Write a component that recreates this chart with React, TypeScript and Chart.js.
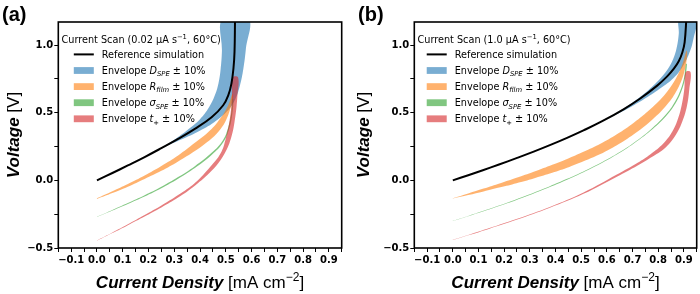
import React, { useEffect, useRef } from 'react';
import { Chart, registerables } from 'chart.js';

Chart.register(...registerables);

type Pt = [number, number];

// Axis ranges and tick spacing (current density in mA cm^-2, voltage in V)
const X_MIN = -0.15;
const X_MAX = 0.95;
const X_STEP = 0.05;
const Y_MIN = -0.5;
const Y_MAX = 1.17;
const Y_STEP = 0.25;

// Panel (a): current scan 0.02 µA/s
const refA: Pt[] = [[0, 0], [0.06, 0.054], [0.12, 0.11], [0.185, 0.172], [0.25, 0.238], [0.315, 0.306], [0.38, 0.38], [0.445, 0.466], [0.49, 0.555], [0.51, 0.63], [0.522, 0.715], [0.53, 0.83], [0.534, 0.95], [0.536, 1.2]];
const dSpeLoA: Pt[] = [[0.25, 0.238], [0.3, 0.3], [0.35, 0.37], [0.4, 0.452], [0.435, 0.54], [0.458, 0.63], [0.472, 0.72], [0.48, 0.82], [0.485, 0.95], [0.488, 1.2]];
const dSpeHiA: Pt[] = [[0.25, 0.238], [0.32, 0.296], [0.39, 0.358], [0.455, 0.43], [0.505, 0.51], [0.537, 0.6], [0.555, 0.7], [0.568, 0.82], [0.578, 0.97], [0.588, 1.2]];
const rFilmLoA: Pt[] = [[0, -0.138], [0.06, -0.094], [0.12, -0.047], [0.185, 0.01], [0.25, 0.07], [0.315, 0.14], [0.38, 0.217], [0.445, 0.31], [0.48, 0.38], [0.5, 0.44], [0.518, 0.53], [0.529, 0.62]];
const rFilmHiA: Pt[] = [[0, -0.132], [0.06, -0.08], [0.12, -0.027], [0.185, 0.036], [0.25, 0.106], [0.315, 0.184], [0.38, 0.277], [0.445, 0.38], [0.48, 0.46], [0.5, 0.52], [0.515, 0.58], [0.526, 0.64]];
const sigmaLoA: Pt[] = [[0, -0.271], [0.06, -0.223], [0.12, -0.174], [0.185, -0.119], [0.25, -0.058], [0.315, 0.012], [0.38, 0.091], [0.445, 0.187], [0.491, 0.283], [0.514, 0.385], [0.525, 0.487], [0.53, 0.6]];
const sigmaHiA: Pt[] = [[0, -0.269], [0.06, -0.219], [0.12, -0.168], [0.185, -0.111], [0.25, -0.048], [0.315, 0.024], [0.38, 0.105], [0.445, 0.203], [0.489, 0.297], [0.51, 0.395], [0.521, 0.493], [0.526, 0.6]];
const tPlusLoA: Pt[] = [[0, -0.447], [0.06, -0.39], [0.12, -0.331], [0.185, -0.267], [0.25, -0.2], [0.315, -0.127], [0.38, -0.04], [0.445, 0.07], [0.49, 0.18], [0.52, 0.31], [0.537, 0.47], [0.545, 0.62], [0.548, 0.76]];
const tPlusHiA: Pt[] = [[0, -0.445], [0.06, -0.386], [0.12, -0.325], [0.185, -0.257], [0.25, -0.186], [0.315, -0.109], [0.38, -0.02], [0.44, 0.1], [0.48, 0.2], [0.5, 0.31], [0.517, 0.47], [0.524, 0.62], [0.527, 0.76]];

// Panel (b): current scan 1.0 µA/s
const refB: Pt[] = [[0, 0], [0.06, 0.038], [0.117, 0.075], [0.18, 0.117], [0.248, 0.164], [0.315, 0.212], [0.378, 0.26], [0.445, 0.314], [0.509, 0.369], [0.58, 0.435], [0.665, 0.525], [0.73, 0.605], [0.796, 0.7], [0.835, 0.768], [0.861, 0.825], [0.88, 0.88], [0.894, 0.945], [0.903, 1.02], [0.91, 1.2]];
const dSpeLoB: Pt[] = [[0.58, 0.435], [0.64, 0.5], [0.7, 0.575], [0.755, 0.655], [0.8, 0.735], [0.835, 0.815], [0.858, 0.895], [0.872, 0.98], [0.88, 1.08], [0.884, 1.2]];
const dSpeHiB: Pt[] = [[0.58, 0.435], [0.64, 0.49], [0.7, 0.55], [0.76, 0.618], [0.81, 0.682], [0.86, 0.757], [0.895, 0.84], [0.92, 0.935], [0.936, 1.035], [0.947, 1.2]];
const rFilmLoB: Pt[] = [[0, -0.134], [0.06, -0.109], [0.12, -0.082], [0.185, -0.052], [0.248, -0.021], [0.315, 0.014], [0.378, 0.05], [0.445, 0.093], [0.509, 0.141], [0.575, 0.195], [0.639, 0.26], [0.705, 0.341], [0.77, 0.437], [0.83, 0.549], [0.87, 0.656], [0.9, 0.79], [0.913, 0.93]];
const rFilmHiB: Pt[] = [[0, -0.132], [0.06, -0.097], [0.12, -0.061], [0.185, -0.021], [0.248, 0.019], [0.315, 0.064], [0.378, 0.108], [0.445, 0.158], [0.509, 0.211], [0.575, 0.27], [0.639, 0.34], [0.705, 0.426], [0.77, 0.527], [0.83, 0.644], [0.87, 0.756], [0.895, 0.861], [0.91, 0.958]];
const sigmaLoB: Pt[] = [[0, -0.301], [0.06, -0.265], [0.117, -0.231], [0.18, -0.19], [0.248, -0.145], [0.315, -0.097], [0.378, -0.049], [0.445, 0.005], [0.509, 0.06], [0.575, 0.122], [0.639, 0.19], [0.705, 0.272], [0.77, 0.366], [0.831, 0.476], [0.867, 0.567], [0.892, 0.667], [0.905, 0.758], [0.912, 0.86]];
const sigmaHiB: Pt[] = [[0, -0.299], [0.06, -0.263], [0.117, -0.227], [0.18, -0.186], [0.248, -0.139], [0.315, -0.091], [0.378, -0.043], [0.445, 0.011], [0.509, 0.066], [0.575, 0.128], [0.639, 0.196], [0.705, 0.278], [0.77, 0.374], [0.829, 0.484], [0.863, 0.573], [0.888, 0.673], [0.901, 0.762], [0.908, 0.86]];
const tPlusLoB: Pt[] = [[0, -0.4415], [0.06, -0.4065], [0.143, -0.357], [0.248, -0.292], [0.378, -0.203], [0.509, -0.1], [0.639, 0.027], [0.72, 0.11], [0.77, 0.167], [0.83, 0.245], [0.87, 0.34], [0.895, 0.44], [0.912, 0.55], [0.921, 0.67], [0.926, 0.8]];
const tPlusHiB: Pt[] = [[0, -0.4385], [0.06, -0.4035], [0.143, -0.353], [0.248, -0.286], [0.378, -0.197], [0.509, -0.09], [0.639, 0.043], [0.72, 0.13], [0.77, 0.193], [0.82, 0.272], [0.855, 0.36], [0.878, 0.46], [0.893, 0.57], [0.902, 0.68], [0.907, 0.8]];

// Legend text
const SCAN_RATES = ['0.02', '1.0'];
const TEMPERATURE = '60°C';
const PANEL_TAGS = ['(a)', '(b)'];
const REF_LABEL = 'Reference simulation';
const ENVELOPE_WORD = 'Envelope';
const PARAM_SYMBOLS = ['D', 'R', 'σ', 't'];
const PARAM_SUBSCRIPTS = ['SPE', 'film', 'SPE', '+'];
const SPREAD_LABEL = '± 10%';

// Colours (tab10 with 0.6 alpha for the envelopes)
const C_REF = '#000000';
const C_ENV = ['rgba(31,119,180,0.6)', 'rgba(255,127,14,0.6)', 'rgba(44,160,44,0.6)', 'rgba(214,39,40,0.6)'];

const F_SANS = '"DejaVu Sans", "Liberation Sans", sans-serif';
const F_HEAD = '"Liberation Sans", Arial, sans-serif';
const LEG_SIZE = 9.7;

type Run = { t: string; font: string; dy?: number };

function runsWidth(ctx: CanvasRenderingContext2D, runs: Run[]) {
  let w = 0;
  for (const r of runs) {
    ctx.font = r.font;
    w += ctx.measureText(r.t).width;
  }
  return w;
}

function drawRuns(ctx: CanvasRenderingContext2D, runs: Run[], x: number, y: number) {
  let cx = x;
  for (const r of runs) {
    ctx.font = r.font;
    ctx.fillText(r.t, cx, y + (r.dy || 0));
    cx += ctx.measureText(r.t).width;
  }
}

const legRegular = `${LEG_SIZE}px ${F_SANS}`;
const legItalic = `italic ${LEG_SIZE}px ${F_SANS}`;
const legSmall = `${(LEG_SIZE * 0.7).toFixed(2)}px ${F_SANS}`;
const legSmallItalic = `italic ${(LEG_SIZE * 0.7).toFixed(2)}px ${F_SANS}`;

function envelopeRuns(i: number): Run[] {
  const sub = PARAM_SUBSCRIPTS[i];
  const subFont = /[a-zA-Z]/.test(sub) ? legSmallItalic : legSmall;
  return [
    { t: ENVELOPE_WORD + ' ', font: legRegular },
    { t: PARAM_SYMBOLS[i], font: legItalic },
    { t: sub, font: subFont, dy: 2.3 },
    { t: ' ' + SPREAD_LABEL, font: legRegular },
  ];
}

type PanelSpec = {
  tag: string;
  rate: string;
  ref: Pt[];
  bands: [Pt[], Pt[]][]; // [lower edge, upper edge] per envelope, same order as C_ENV
  yAxisWidth: number;
  padRight: number;
  tagX: number;
};

const PANELS: PanelSpec[] = [
  {
    tag: PANEL_TAGS[0], rate: SCAN_RATES[0], ref: refA,
    bands: [[dSpeLoA, dSpeHiA], [rFilmLoA, rFilmHiA], [sigmaLoA, sigmaHiA], [tPlusLoA, tPlusHiA]],
    yAxisWidth: 58.3, padRight: 8.3, tagX: 2,
  },
  {
    tag: PANEL_TAGS[1], rate: SCAN_RATES[1], ref: refB,
    bands: [[dSpeLoB, dSpeHiB], [rFilmLoB, rFilmHiB], [sigmaLoB, sigmaHiB], [tPlusLoB, tPlusHiB]],
    yAxisWidth: 64.3, padRight: 3.3, tagX: 8,
  },
];

const toXY = (pts: Pt[]) => pts.map(([x, y]) => ({ x, y }));

// closed outline: lower edge forward, upper edge back
const outline = (lo: Pt[], hi: Pt[]) => toXY([...lo, ...hi.slice().reverse()]);

const fmtTick = (v: number) => v.toFixed(1).replace('-', '\u2212');

function decorPlugin(p: PanelSpec) {
  return {
    id: 'decor',
    afterDraw(chart: any) {
      const ctx: CanvasRenderingContext2D = chart.ctx;
      const a = chart.chartArea;
      ctx.save();
      ctx.fillStyle = '#000';
      ctx.textBaseline = 'alphabetic';
      ctx.textAlign = 'left';

      // legend
      const titleRuns: Run[] = [
        { t: `Current Scan (${p.rate} μA s`, font: legRegular },
        { t: '\u22121', font: legSmall, dy: -3.6 },
        { t: `, ${TEMPERATURE})`, font: legRegular },
      ];
      const boxLeft = a.left + 3.2;
      const tw = runsWidth(ctx, titleRuns);
      const cx = boxLeft + tw / 2;
      drawRuns(ctx, titleRuns, boxLeft, a.top + 17.3 + 3.5);

      const items: { kind: 'line' | 'patch'; color: string; runs: Run[] }[] = [
        { kind: 'line', color: C_REF, runs: [{ t: REF_LABEL, font: legRegular }] },
        ...C_ENV.map((c, i) => ({ kind: 'patch' as const, color: c, runs: envelopeRuns(i) })),
      ];
      const textW = Math.max(...items.map((it) => runsWidth(ctx, it.runs)));
      const blockW = 28 + textW;
      const ex = cx - blockW / 2 - 1.5;
      items.forEach((it, i) => {
        const y = a.top + 32.4 + i * 16.1;
        if (it.kind === 'line') {
          ctx.strokeStyle = it.color;
          ctx.lineWidth = 2;
          ctx.beginPath();
          ctx.moveTo(ex, y);
          ctx.lineTo(ex + 20, y);
          ctx.stroke();
        } else {
          ctx.fillStyle = it.color;
          ctx.fillRect(ex, y - 3.4, 20, 6.8);
        }
        ctx.fillStyle = '#000';
        drawRuns(ctx, it.runs, ex + 28, y + 3.5);
      });

      // frame on all four sides
      ctx.strokeStyle = '#000';
      ctx.lineWidth = 1.6;
      ctx.strokeRect(a.left, a.top, a.right - a.left, a.bottom - a.top);

      // panel tag
      ctx.fillStyle = '#000';
      ctx.font = `bold 20px ${F_HEAD}`;
      ctx.fillText(p.tag, p.tagX, 21);

      // x-axis title
      const xRuns: Run[] = [
        { t: 'Current Density', font: `italic bold 17px ${F_HEAD}` },
        { t: ' [mA cm', font: `17px ${F_HEAD}` },
        { t: '\u22122', font: `12px ${F_HEAD}`, dy: -7 },
        { t: ']', font: `17px ${F_HEAD}` },
      ];
      const xw = runsWidth(ctx, xRuns);
      drawRuns(ctx, xRuns, (a.left + a.right) / 2 - xw / 2, 288);

      // y-axis title
      const yRuns: Run[] = [
        { t: 'Voltage', font: `italic bold 17px ${F_HEAD}` },
        { t: ' [V]', font: `17px ${F_HEAD}` },
      ];
      const yw = runsWidth(ctx, yRuns);
      ctx.translate(19, (a.top + a.bottom) / 2);
      ctx.rotate(-Math.PI / 2);
      drawRuns(ctx, yRuns, -yw / 2, 0);
      ctx.restore();
    },
  };
}

function Panel({ spec }: { spec: PanelSpec }) {
  const ref = useRef<HTMLCanvasElement>(null);

  useEffect(() => {
    const canvas = ref.current;
    if (!canvas) return;
    const tickFont = { family: F_SANS, size: 10, weight: 'bold' as const };

    const bandSets = spec.bands.map(([lo, hi], i) => ({
      data: outline(lo, hi),
      borderColor: 'rgba(0,0,0,0)',
      borderWidth: 0,
      backgroundColor: C_ENV[i],
      fill: 'shape',
      pointRadius: 0,
      tension: 0.4,
      order: C_ENV.length - i,
    }));

    const chart = new Chart(canvas, {
      type: 'line',
      data: {
        datasets: [
          {
            data: toXY(spec.ref),
            borderColor: C_REF,
            borderWidth: 2,
            pointRadius: 0,
            fill: false,
            tension: 0.4,
            order: 0,
          },
          ...bandSets,
        ] as any,
      },
      options: {
        responsive: false,
        animation: false,
        devicePixelRatio: 1,
        events: [],
        layout: { padding: { left: 0, top: 22, right: spec.padRight, bottom: 0 } },
        plugins: {
          legend: { display: false },
          tooltip: { enabled: false },
          title: { display: false },
        },
        scales: {
          x: {
            type: 'linear',
            min: X_MIN,
            max: X_MAX,
            afterFit: (s: any) => {
              s.height = 46;
            },
            border: { display: false },
            grid: { drawOnChartArea: false, drawTicks: true, tickLength: 4, color: '#000', lineWidth: 1 },
            ticks: {
              stepSize: X_STEP,
              includeBounds: false,
              autoSkip: false,
              maxRotation: 0,
              padding: 2,
              color: '#000',
              font: tickFont,
              callback: (v: any) => {
                const k = Math.round(Number(v) / X_STEP);
                return k % 2 === 0 ? fmtTick(k * X_STEP) : '';
              },
            },
          },
          y: {
            type: 'linear',
            min: Y_MIN,
            max: Y_MAX,
            afterFit: (s: any) => {
              s.width = spec.yAxisWidth;
            },
            border: { display: false },
            grid: { drawOnChartArea: false, drawTicks: true, tickLength: 4, color: '#000', lineWidth: 1 },
            ticks: {
              stepSize: Y_STEP,
              includeBounds: false,
              autoSkip: false,
              padding: 1,
              color: '#000',
              font: tickFont,
              callback: (v: any) => {
                const k = Math.round(Number(v) / Y_STEP);
                return k % 2 === 0 ? fmtTick(k * Y_STEP) : '';
              },
            },
          },
        },
      } as any,
      plugins: [decorPlugin(spec)],
    });
    return () => chart.destroy();
  }, [spec]);

  return (
    <div style={{ width: 350, height: 294, position: 'relative' }}>
      <canvas ref={ref} width={350} height={294} style={{ width: 350, height: 294, display: 'block' }} />
    </div>
  );
}

export default function App() {
  return (
    <div style={{ position: 'absolute', left: 0, top: 0, width: 700, height: 294, display: 'flex', background: '#fff' }}>
      {PANELS.map((p) => (
        <Panel key={p.tag} spec={p} />
      ))}
    </div>
  );
}
